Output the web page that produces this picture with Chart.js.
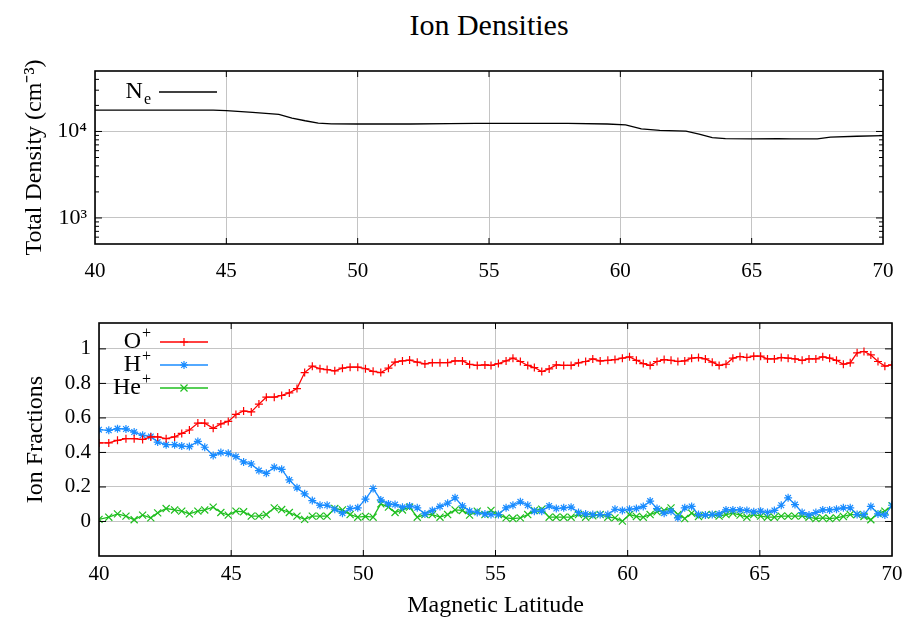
<!DOCTYPE html>
<html><head><meta charset="utf-8">
<script src="https://cdn.jsdelivr.net/npm/chart.js@4.4.1/dist/chart.umd.min.js"></script>
<style>
body{margin:0;background:#fff;width:908px;height:620px;overflow:hidden;position:relative;font-family:"Liberation Serif","Times New Roman",serif}
#title{position:absolute;left:95px;width:788px;top:8px;text-align:center;font-size:30px;line-height:34px;color:#000}
#c1{position:absolute;left:0;top:0}
#c2{position:absolute;left:0;top:290px}
</style></head><body>
<div id="title">Ion Densities</div>
<canvas id="c1" width="908" height="290"></canvas>
<canvas id="c2" width="908" height="330"></canvas>
<script>
// ---------- data ----------
const neLat = [40.0,44.5,45.0,46.0,47.0,47.5,48.0,48.5,49.0,50.0,52.0,53.5,54.5,56.0,58.0,59.5,60.2,60.8,61.5,62.5,63.0,63.5,64.0,65.0,66.0,66.5,67.5,68.0,69.0,70.0];
const neVals = [17600,17600,17400,16600,15800,14300,13300,12500,12250,12200,12200,12300,12400,12400,12400,12200,11900,10700,10300,10100,9300,8500,8250,8200,8250,8200,8200,8600,8800,8950];

const lat = [40.00,40.37,40.70,41.02,41.33,41.65,41.96,42.22,42.54,42.86,43.13,43.42,43.74,44.00,44.32,44.61,44.89,
45.18,45.47,45.76,46.05,46.33,46.63,46.91,47.20,47.49,47.78,48.07,48.36,48.63,48.92,49.21,49.50,49.79,
50.08,
50.37,50.66,50.95,51.20,51.48,51.75,52.04,52.33,52.61,52.90,53.19,53.47,53.75,54.02,54.31,54.60,
54.83,55.11,55.40,55.66,55.94,56.22,56.47,56.75,57.03,57.30,57.58,57.86,58.14,58.41,58.68,58.96,59.25,59.52,59.80,
60.07,60.33,60.59,60.85,61.11,61.38,61.64,61.90,62.16,62.42,62.68,62.94,63.20,63.46,63.72,63.98,64.25,64.51,64.77,
65.03,65.29,65.55,65.81,66.07,66.33,66.60,66.86,67.12,67.38,67.64,67.90,68.16,68.42,68.68,68.94,69.20,69.47,69.73,70.00];

const oPlus = [0.455,0.455,0.47,0.48,0.48,0.475,0.49,0.49,0.48,0.49,0.51,0.53,0.57,0.57,0.54,0.565,0.58,
0.62,0.64,0.635,0.68,0.72,0.72,0.73,0.745,0.77,0.863,0.90,0.885,0.88,0.873,0.888,0.894,0.894,
0.885,
0.87,0.863,0.888,0.923,0.93,0.935,0.923,0.913,0.92,0.92,0.92,0.93,0.93,0.91,0.904,0.907,
0.904,0.915,0.93,0.946,0.927,0.904,0.892,0.869,0.884,0.907,0.904,0.904,0.919,0.927,0.942,0.93,0.934,0.938,0.946,
0.954,0.934,0.915,0.904,0.927,0.938,0.934,0.927,0.93,0.946,0.95,0.942,0.923,0.904,0.911,0.946,0.956,0.95,0.958,
0.958,0.942,0.942,0.95,0.946,0.942,0.934,0.942,0.942,0.954,0.946,0.934,0.911,0.919,0.977,0.985,0.965,0.927,0.9,0.907];

const hPlus = [0.532,0.528,0.538,0.536,0.518,0.499,0.493,0.46,0.445,0.445,0.437,0.434,0.464,0.43,0.383,0.399,0.395,
0.376,0.345,0.333,0.295,0.279,0.314,0.302,0.241,0.195,0.16,0.121,0.094,0.094,0.071,0.048,0.075,0.079,
0.129,
0.191,0.125,0.102,0.098,0.083,0.09,0.079,0.044,0.064,0.087,0.106,0.137,0.09,0.06,0.052,0.044,
0.04,0.04,0.079,0.094,0.114,0.094,0.06,0.06,0.09,0.075,0.079,0.083,0.052,0.044,0.04,0.04,0.04,0.071,0.064,
0.071,0.075,0.087,0.118,0.075,0.048,0.06,0.021,0.079,0.087,0.04,0.037,0.04,0.044,0.067,0.067,0.067,0.064,0.056,
0.06,0.052,0.064,0.094,0.137,0.098,0.052,0.037,0.052,0.067,0.067,0.071,0.079,0.079,0.04,0.04,0.087,0.044,0.037,0.094];

const hePlus = [0.012,0.025,0.044,0.031,0.01,0.037,0.021,0.05,0.075,0.067,0.06,0.044,0.06,0.067,0.083,0.052,0.037,
0.06,0.056,0.031,0.031,0.04,0.079,0.069,0.052,0.031,0.012,0.031,0.031,0.031,0.075,0.067,0.04,0.025,
0.029,
0.025,0.102,0.083,0.052,0.067,0.083,0.025,0.04,0.04,0.025,0.04,0.067,0.064,0.037,0.06,0.04,
0.064,0.04,0.021,0.017,0.021,0.04,0.064,0.071,0.025,0.025,0.025,0.025,0.04,0.025,0.033,0.04,0.025,0.021,0.002,
0.04,0.029,0.025,0.04,0.056,0.064,0.079,0.04,0.017,0.048,0.029,0.037,0.04,0.031,0.04,0.048,0.037,0.025,0.04,
0.031,0.025,0.025,0.031,0.031,0.031,0.033,0.025,0.017,0.021,0.017,0.021,0.029,0.04,0.04,0.029,0.01,0.048,0.06,0.09];

const denTicks = [1000, 10000];
const denTickLabels = ['10³', '10⁴'];
const denMinor = [600,700,800,900,2000,3000,4000,5000,6000,7000,8000,9000,20000,30000,40000];
const fracTicks = [0, 0.2, 0.4, 0.6, 0.8, 1];
const fracTickLabels = ['0', '0.2', '0.4', '0.6', '0.8', '1'];
const latTicks = [40, 45, 50, 55, 60, 65, 70];

// ---------- styles ----------
const SERIF = '"Liberation Serif","Times New Roman",serif';
const GRID = '#c4c4c4';
Chart.defaults.font.family = SERIF;
Chart.defaults.color = '#000';

const framePlugin = {
  id: 'frame',
  afterDraw(chart, args, opts) {
    const {ctx, chartArea: {left, top, right, bottom}} = chart;
    const line = (a, b, c, d) => { ctx.beginPath(); ctx.moveTo(a, b); ctx.lineTo(c, d); ctx.stroke(); };
    ctx.save();
    ctx.strokeStyle = '#000';
    ctx.lineWidth = 1;
    const xs = chart.scales.x, ys = chart.scales.y;
    xs.ticks.forEach(t => {
      const p = xs.getPixelForValue(t.value);
      if (p > left + 2 && p < right - 2) { line(p, top, p, top + 6); line(p, bottom, p, bottom - 6); }
    });
    ys.ticks.forEach(t => {
      const p = ys.getPixelForValue(t.value);
      line(left, p, left + 7, p); line(right, p, right - 7, p);
    });
    (opts.minor || []).forEach(v => {
      const p = ys.getPixelForValue(v);
      line(left, p, left + 4, p); line(right, p, right - 4, p);
    });
    ctx.lineWidth = 1.6;
    ctx.strokeRect(left, top, right - left, bottom - top);
    ctx.restore();
  }
};

// key: text right-aligned, then line sample with its marker (gnuplot style)
const keyPlugin = {
  id: 'key',
  afterDatasetsDraw(chart, args, opts) {
    const ctx = chart.ctx;
    ctx.save();
    chart.data.datasets.forEach((ds, i) => {
      const y = opts.y + i * opts.dy;
      const lab = ds.label;
      const last = lab.slice(-1);
      let base = lab, script = '', dy = 0;
      if (last === '⁺') { base = lab.slice(0, -1); script = '+'; dy = -8; }
      if (last === 'ₑ') { base = lab.slice(0, -1); script = 'e'; dy = 8; }
      ctx.fillStyle = '#000';
      ctx.textBaseline = 'middle';
      ctx.textAlign = 'left';
      const bigF = opts.size + 'px ' + SERIF, smallF = Math.round(opts.size * 0.68) + 'px ' + SERIF;
      ctx.font = smallF; const ws = script ? ctx.measureText(script).width : 0;
      ctx.font = bigF; const wb = ctx.measureText(base).width;
      const x0 = opts.textX - ws - wb;
      ctx.fillText(base, x0, y);
      if (script) { ctx.font = smallF; ctx.fillText(script, x0 + wb + 1, y + dy); }
      ctx.strokeStyle = ds.borderColor;
      ctx.lineWidth = ds.borderWidth;
      ctx.beginPath(); ctx.moveTo(opts.x0, y); ctx.lineTo(opts.x1, y); ctx.stroke();
      if (ds.pointStyle && ds.pointRadius > 0) {
        ctx.lineWidth = ds.pointBorderWidth || 1;
        Chart.helpers.drawPoint(ctx, {pointStyle: ds.pointStyle, radius: ds.pointRadius, rotation: 0, borderWidth: ds.pointBorderWidth || 1}, (opts.x0 + opts.x1) / 2, y);
      }
    });
    ctx.restore();
  }
};

const noSidePad = (a) => { a.paddingLeft = 0; a.paddingRight = 0; };

// ---------- top chart ----------
new Chart(document.getElementById('c1'), {
  type: 'line',
  data: { datasets: [{
    label: 'Nₑ', data: neLat.map((x, i) => ({x, y: neVals[i]})),
    borderColor: '#000', borderWidth: 1.3, pointRadius: 0, tension: 0
  }]},
  options: {
    responsive: false, animation: false,
    layout: { padding: { top: 71, right: 25, left: 0, bottom: 0 } },
    plugins: {
      legend: { display: false }, tooltip: { enabled: false },
      frame: { minor: denMinor },
      key: { y: 92, dy: 23, textX: 150, x0: 159, x1: 217, size: 24 }
    },
    scales: {
      x: {
        type: 'linear', min: 40, max: 70,
        afterBuildTicks(a) { a.ticks = latTicks.map(v => ({value: v})); },
        ticks: { color: '#000', font: { family: SERIF, size: 21 }, padding: 15, maxRotation: 0 },
        grid: { color: GRID, drawTicks: false, lineWidth: 1 },
        border: { display: false },
        afterFit(a) { a.height = 46; noSidePad(a); }
      },
      y: {
        type: 'logarithmic', min: 500, max: 50000,
        afterBuildTicks(a) { a.ticks = denTicks.map(v => ({value: v})); },
        ticks: { color: '#000', font: { family: SERIF, size: 22 }, padding: 8,
          callback: (v) => denTickLabels[denTicks.indexOf(v)] },
        grid: { color: GRID, drawTicks: false, lineWidth: 1 },
        border: { display: false },
        title: { display: true, text: 'Total Density (cm⁻³)', color: '#000', font: { family: SERIF, size: 24 }, padding: { top: 20, bottom: 0 } },
        afterFit(a) { a.width = 95; }
      }
    }
  },
  plugins: [framePlugin, keyPlugin]
});

// ---------- bottom chart ----------
const mk = (arr) => lat.map((x, i) => ({x, y: arr[i]}));
new Chart(document.getElementById('c2'), {
  type: 'line',
  data: { datasets: [
    { label: 'O⁺', data: mk(oPlus), borderColor: '#ff0000', backgroundColor: '#ff0000', borderWidth: 1.3,
      pointStyle: 'cross', pointRadius: 4, pointBorderWidth: 1.2, pointBorderColor: '#ff0000', tension: 0 },
    { label: 'H⁺', data: mk(hPlus), borderColor: '#1a8cff', backgroundColor: '#1a8cff', borderWidth: 1.3,
      pointStyle: 'star', pointRadius: 4, pointBorderWidth: 1.2, pointBorderColor: '#1a8cff', tension: 0 },
    { label: 'He⁺', data: mk(hePlus), borderColor: '#1fbf1f', backgroundColor: '#1fbf1f', borderWidth: 1.3,
      pointStyle: 'crossRot', pointRadius: 5, pointBorderWidth: 1.2, pointBorderColor: '#1fbf1f', tension: 0 }
  ]},
  options: {
    responsive: false, animation: false,
    layout: { padding: { top: 33, right: 16, left: 0, bottom: 0 } },
    plugins: {
      legend: { display: false }, tooltip: { enabled: false },
      frame: { minor: [] },
      key: { y: 52, dy: 23, textX: 150, x0: 160, x1: 208, size: 24 }
    },
    scales: {
      x: {
        type: 'linear', min: 40, max: 70,
        afterBuildTicks(a) { a.ticks = latTicks.map(v => ({value: v})); },
        ticks: { color: '#000', font: { family: SERIF, size: 21 }, padding: 6, maxRotation: 0 },
        grid: { color: GRID, drawTicks: false, lineWidth: 1 },
        border: { display: false },
        title: { display: true, text: 'Magnetic Latitude', color: '#000', font: { family: SERIF, size: 24 }, padding: { top: 0, bottom: 0 } },
        afterFit(a) { a.height = 64; noSidePad(a); }
      },
      y: {
        type: 'linear', min: -0.2, max: 1.15,
        afterBuildTicks(a) { a.ticks = fracTicks.map(v => ({value: v})); },
        ticks: { color: '#000', font: { family: SERIF, size: 21 }, padding: 8,
          callback: (v) => fracTickLabels[fracTicks.indexOf(v)] },
        grid: { color: GRID, drawTicks: false, lineWidth: 1 },
        border: { display: false },
        title: { display: true, text: 'Ion Fractions', color: '#000', font: { family: SERIF, size: 24 }, padding: { top: 21, bottom: 0 } },
        afterFit(a) { a.width = 99; }
      }
    }
  },
  plugins: [framePlugin, keyPlugin]
});
</script>
</body></html>
